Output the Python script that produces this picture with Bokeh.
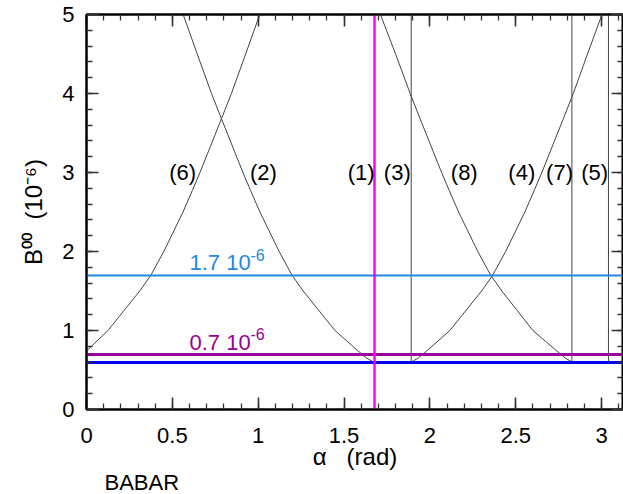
from bokeh.plotting import figure
from bokeh.models import Range1d, SingleIntervalTicker, LinearAxis, Title, CustomJSTickFormatter
from bokeh.embed import file_html
from bokeh.resources import INLINE
from bokeh.core.properties import value

FONT = "Liberation Sans"

# ---- data ----
# solution (6): rising curve
curve6_x = [0.0, 0.125, 0.310, 0.375, 0.450, 0.562, 0.616, 0.661, 0.786, 0.844, 0.927, 1.009]
curve6_y = [0.74, 1.0, 1.5, 1.7, 2.0, 2.5, 2.77, 3.0, 3.68, 4.0, 4.5, 5.0]
# solution (2): falling curve
curve2_x = [0.563, 0.645, 0.728, 0.786, 0.911, 0.956, 1.010, 1.122, 1.197, 1.262, 1.447, 1.577, 1.632, 1.672]
curve2_y = [5.0, 4.5, 4.0, 3.68, 3.0, 2.77, 2.5, 2.0, 1.7, 1.5, 1.0, 0.75, 0.65, 0.6]
# solution (8): falling curve
curve8_x = [1.712, 1.800, 1.885, 1.943, 2.068, 2.113, 2.167, 2.279, 2.354, 2.419, 2.600, 2.734, 2.789, 2.829]
curve8_y = [5.0, 4.5, 4.0, 3.68, 3.0, 2.77, 2.5, 2.0, 1.7, 1.5, 1.0, 0.75, 0.65, 0.6]
# solution (4): rising curve
curve4_x = [1.891, 1.931, 1.986, 2.116, 2.301, 2.366, 2.441, 2.553, 2.607, 2.652, 2.777, 2.835, 2.918, 3.002]
curve4_y = [0.6, 0.65, 0.75, 1.0, 1.5, 1.7, 2.0, 2.5, 2.77, 3.0, 3.68, 4.0, 4.5, 5.0]

# vertical solutions (3), (7), (5) and (1)
vert_x = [1.891, 2.827, 3.04]
vert_bottom = [0.6, 0.6, 0.6]
vert_top = [5.0, 5.0, 5.0]
sol1_x = [1.675]

# solution labels
sol_labels = ["(6)", "(2)", "(1)", "(3)", "(8)", "(4)", "(7)", "(5)"]
sol_label_x = [0.56, 1.03, 1.60, 1.81, 2.20, 2.535, 2.755, 2.96]
sol_label_y = [3.0] * 8

# horizontal limits
h_values = [1.7, 0.7, 0.6]
h_colors = ["#1E88E5", "#990099", "#0000EE"]
h_widths = [2.2, 2.8, 2.8]

band_label_x = [0.60, 0.60]
band_label_y = [1.86, 0.85]
band_label_text = ["1.7 10", "0.7 10"]
band_label_sup = ["-6", "-6"]
band_label_colors = ["#1E88E5", "#990099"]

x_major = 0.5
y_major = 1.0

p = figure(width=623, height=494,
           x_range=Range1d(0, 3.1275), y_range=Range1d(0, 5),
           output_backend="svg", toolbar_location=None,
           min_border_left=86, min_border_top=14, min_border_right=0, min_border_bottom=85)
p.grid.visible = False
p.outline_line_color = "black"
p.outline_line_width = 2
p.background_fill_color = "white"
p.border_fill_color = "white"

fmt = CustomJSTickFormatter(code="return String(Math.round(tick*10)/10)")

def style_axis(ax, show_labels=True):
    ax.major_tick_in = 12
    ax.major_tick_out = 0
    ax.minor_tick_in = 6
    ax.minor_tick_out = 0
    ax.axis_line_width = 2
    ax.axis_line_color = "black"
    ax.major_tick_line_width = 1.6
    ax.major_tick_line_color = "#333333"
    ax.minor_tick_line_width = 1.3
    ax.minor_tick_line_color = "#333333"
    ax.major_label_text_font = FONT
    ax.major_label_text_color = "black"
    ax.axis_label_text_font = FONT
    ax.axis_label_text_font_style = "normal"
    ax.axis_label_text_color = "black"
    if show_labels:
        ax.major_label_text_font_size = "22px"
    else:
        ax.major_label_text_font_size = "0px"
        ax.major_label_text_color = None
        ax.major_label_standoff = 0

p.xaxis.ticker = SingleIntervalTicker(interval=x_major, num_minor_ticks=5)
p.yaxis.ticker = SingleIntervalTicker(interval=y_major, num_minor_ticks=5)
p.xaxis.formatter = fmt
p.yaxis.formatter = fmt
style_axis(p.xaxis[0])
style_axis(p.yaxis[0])
p.xaxis.major_label_standoff = 18
p.yaxis.major_label_standoff = 12
p.xaxis.axis_label = "\u03b1\u00a0\u00a0\u00a0(rad)"
p.xaxis.axis_label_text_font_size = "24px"
p.xaxis.axis_label_standoff = -3
p.yaxis.axis_label = "B\u2070\u2070\u00a0\u00a0(10\u207b\u2076)"
p.yaxis.axis_label_text_font_size = "24px"
p.yaxis.axis_label_standoff = 12

top_ax = LinearAxis(ticker=SingleIntervalTicker(interval=x_major, num_minor_ticks=5))
style_axis(top_ax, show_labels=False)
p.add_layout(top_ax, "above")
right_ax = LinearAxis(ticker=SingleIntervalTicker(interval=y_major, num_minor_ticks=5))
style_axis(right_ax, show_labels=False)
p.add_layout(right_ax, "right")

# curves
for cx, cy in [(curve6_x, curve6_y), (curve2_x, curve2_y), (curve8_x, curve8_y), (curve4_x, curve4_y)]:
    p.line(cx, cy, line_color="#444444", line_width=1)

p.segment(x0=vert_x, y0=vert_bottom, x1=vert_x, y1=vert_top, line_color="#444444", line_width=1)

for hv, hc, hw in zip(h_values, h_colors, h_widths):
    p.hspan(y=[hv], line_color=hc, line_width=hw)

p.vspan(x=sol1_x, line_color="#FF00FF", line_width=2.5)

p.text(x=sol_label_x, y=sol_label_y, text=sol_labels, text_align="center", text_baseline="middle",
       text_font=value(FONT), text_font_size="22px", text_color="black")

p.text(x=band_label_x, y=band_label_y, text=band_label_text, text_align="left", text_baseline="alphabetic",
       text_font=value(FONT), text_font_size="22px", text_color=band_label_colors)
p.text(x=band_label_x, y=band_label_y, text=band_label_sup, text_align="left", text_baseline="alphabetic",
       x_offset=61, y_offset=-8,
       text_font=value(FONT), text_font_size="16px", text_color=band_label_colors)

babar = Title(text="BABAR", align="left", offset=18, standoff=-10,
              text_font=FONT, text_font_size="22px", text_font_style="normal", text_color="black")
p.add_layout(babar, "below")

open("out.html", "w").write(file_html(p, INLINE))
